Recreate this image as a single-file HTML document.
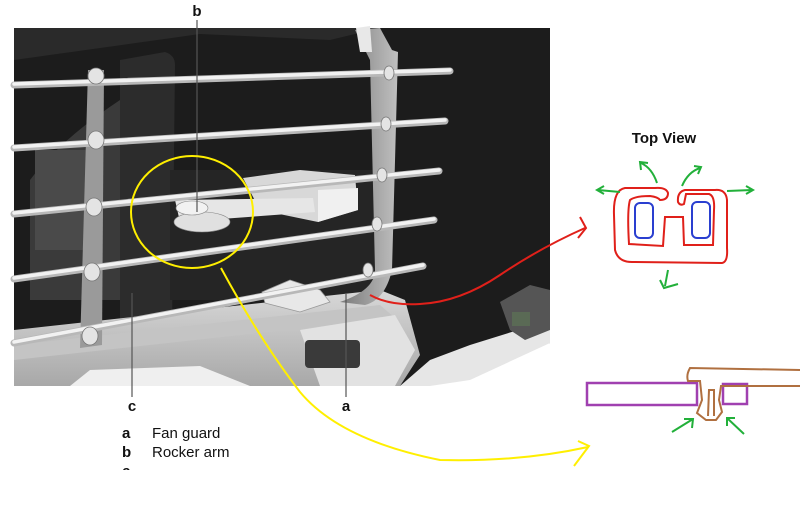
<!DOCTYPE html>
<html><head><meta charset="utf-8"><style>
html,body{margin:0;padding:0;background:#fff;width:800px;height:507px;overflow:hidden}
svg{display:block}
text{font-family:"Liberation Sans",Arial,sans-serif}
</style></head><body>
<svg width="800" height="507" viewBox="0 0 800 507">
<defs>
<linearGradient id="bot" x1="0" y1="0" x2="0" y2="1"><stop offset="0" stop-color="#d8d8d8"/><stop offset="1" stop-color="#a8a8a8"/></linearGradient>
<linearGradient id="frame" x1="0" y1="0" x2="1" y2="0"><stop offset="0" stop-color="#7a7a7a"/><stop offset="1" stop-color="#c0c0c0"/></linearGradient>
</defs>
<polygon points="14,28 550,28 550,343 470,360 400,386 14,386" fill="#1c1c1c"/>
<polygon points="14,28 380,28 330,40 200,34 14,60" fill="#2a2a2a"/>
<path d="M30,180 Q60,140 120,100 L170,60 L170,300 L30,300 Z" fill="#3a3a3a"/>
<path d="M120,60 L165,52 Q175,55 175,65 L172,330 L120,330 Z" fill="#2c2c2c"/>
<path d="M35,150 L100,150 L100,250 L35,250 Z" fill="#4a4a4a"/>
<path d="M170,170 L380,170 L380,300 L170,300 Z" fill="#252525"/>
<polygon points="14,330 380,290 405,300 420,355 400,386 14,386" fill="url(#bot)"/>
<polygon points="14,345 380,305 395,318 14,360" fill="#c4c4c4"/>
<polygon points="300,330 395,315 415,350 395,386 320,386" fill="#e2e2e2"/>
<rect x="305" y="340" width="55" height="28" rx="4" fill="#3a3a3a"/>
<polygon points="90,370 200,366 250,386 70,386" fill="#efefef"/>
<polygon points="400,386 430,360 470,345 550,320 550,343 470,380 430,386" fill="#e6e6e6"/>
<polygon points="500,302 530,285 550,290 550,330 525,340 510,330" fill="#555"/>
<rect x="512" y="312" width="18" height="14" fill="#5a6a55"/>
<polygon points="262,292 290,280 320,290 330,302 300,312 265,303" fill="#e8e8e8" stroke="#999" stroke-width="0.8"/>
<path d="M355,30 L380,28 L392,50 L398,52 L392,270 Q385,300 365,305 L340,302 Q375,290 375,270 L370,60 Z" fill="url(#frame)"/>
<path d="M356,28 L370,26 L372,52 L360,52 Z" fill="#e8e8e8"/>
<polygon points="243,178 300,170 355,175 358,210 318,222 260,210" fill="#d8d8d8"/>
<polygon points="318,190 358,188 358,210 318,222" fill="#f0f0f0"/>
<polygon points="175,200 313,198 315,212 180,222" fill="#e6e6e6"/>
<ellipse cx="202" cy="222" rx="28" ry="10" fill="#e0e0e0" stroke="#888" stroke-width="0.6"/>
<ellipse cx="192" cy="208" rx="16" ry="7" fill="#f2f2f2" stroke="#888" stroke-width="0.6"/>
<path d="M88,70 L104,70 L102,345 L80,348 Z" fill="#9a9a9a"/>
<g stroke="#b8b8b8" stroke-width="7" stroke-linecap="round">
<line x1="14" y1="85" x2="450" y2="71"/>
<line x1="14" y1="148" x2="445" y2="121"/>
<line x1="14" y1="214" x2="439" y2="171"/>
<line x1="14" y1="279" x2="434" y2="220"/>
<line x1="14" y1="343" x2="423" y2="266"/>
</g>
<g stroke="#f2f2f2" stroke-width="3.5" stroke-linecap="round">
<line x1="14" y1="84" x2="450" y2="70"/>
<line x1="14" y1="147" x2="445" y2="120"/>
<line x1="14" y1="213" x2="439" y2="170"/>
<line x1="14" y1="278" x2="434" y2="219"/>
<line x1="14" y1="342" x2="423" y2="265"/>
</g>
<g fill="#e4e4e4" stroke="#777" stroke-width="0.8">
<ellipse cx="96" cy="76" rx="8" ry="8"/><ellipse cx="96" cy="140" rx="8" ry="9"/><ellipse cx="94" cy="207" rx="8" ry="9"/><ellipse cx="92" cy="272" rx="8" ry="9"/><ellipse cx="90" cy="336" rx="8" ry="9"/>
<ellipse cx="389" cy="73" rx="5" ry="7"/><ellipse cx="386" cy="124" rx="5" ry="7"/><ellipse cx="382" cy="175" rx="5" ry="7"/><ellipse cx="377" cy="224" rx="5" ry="7"/><ellipse cx="368" cy="270" rx="5" ry="7"/>
</g>
<g stroke="#555" stroke-width="1.2">
<line x1="197" y1="20" x2="197" y2="212"/>
<line x1="132" y1="293" x2="132" y2="397"/>
<line x1="346" y1="293" x2="346" y2="397"/>
</g>
<text x="197" y="16" font-size="15" font-weight="bold" text-anchor="middle" fill="#111">b</text>
<text x="132" y="411" font-size="15" font-weight="bold" text-anchor="middle" fill="#111">c</text>
<text x="346" y="411" font-size="15" font-weight="bold" text-anchor="middle" fill="#111">a</text>
<text x="122" y="438" font-size="15" font-weight="bold" fill="#111">a</text>
<text x="152" y="438" font-size="15" fill="#111">Fan guard</text>
<text x="122" y="457" font-size="15" font-weight="bold" fill="#111">b</text>
<text x="152" y="457" font-size="15" fill="#111">Rocker arm</text>
<svg x="0" y="460" width="200" height="10" overflow="hidden"><text x="122" y="16" font-size="15" font-weight="bold" fill="#111">c</text></svg>
<ellipse cx="192" cy="212" rx="61" ry="56" fill="none" stroke="#ffef00" stroke-width="2"/>
<path d="M221,268 Q260,340 300,392 Q340,440 440,460 Q520,462 588,447" fill="none" stroke="#ffef00" stroke-width="2"/>
<path d="M578,441 L589,446 L574,466" fill="none" stroke="#ffef00" stroke-width="2"/>
<path d="M370,295 Q390,306 420,304 Q460,302 500,275 Q540,248 585,228" fill="none" stroke="#e0201a" stroke-width="2"/>
<path d="M580,217 L586,228 L578,238" fill="none" stroke="#e0201a" stroke-width="2"/>
<text x="664" y="143" font-size="15" font-weight="bold" text-anchor="middle" fill="#111">Top View</text>
<path d="M660,200 Q668,200 668,193 Q666,187 655,188 L625,188 Q613,190 614,215 L615,250 Q618,262 632,262 L722,263 Q728,262 727,248 L727,200 Q726,189 715,190 L685,190 Q677,192 678,202 Q680,206 684,204 L686,194 L709,194 Q715,196 714,210 L713,245 L684,245 L683,217 L665,217 L663,246 L629,244 Q627,210 630,200 Q635,196 650,196 Q658,197 660,200 Z" fill="none" stroke="#e0201a" stroke-width="2"/>
<rect x="635" y="203" width="18" height="35" rx="5" fill="none" stroke="#2a3fd0" stroke-width="2"/>
<rect x="692" y="202" width="18" height="36" rx="5" fill="none" stroke="#2a3fd0" stroke-width="2"/>
<g fill="none" stroke="#22b03a" stroke-width="2">
<path d="M620,192 L598,190 M604,186 L597,190 L604,194"/>
<path d="M657,183 Q652,168 641,163 M641,170 L640,162 L648,163"/>
<path d="M682,186 Q688,172 700,168 M694,166 L701,167 L698,174"/>
<path d="M727,191 L752,190 M746,186 L753,190 L746,194"/>
<path d="M668,270 L665,286 M660,280 L664,288 L678,284"/>
</g>
<rect x="587" y="383" width="110" height="22" fill="none" stroke="#a040b0" stroke-width="2.5"/>
<rect x="723" y="384" width="24" height="20" fill="none" stroke="#a040b0" stroke-width="2.5"/>
<path d="M800,370 L690,368 Q686,375 688,381 L700,381 L702,400 L697,413 L706,420 L716,420 L722,412 L719,400 L721,386 L800,386" fill="none" stroke="#b07040" stroke-width="2"/>
<path d="M708,416 L709,390 L714,390 L714,416" fill="none" stroke="#b07040" stroke-width="2"/>
<g fill="none" stroke="#22b03a" stroke-width="2">
<path d="M672,432 L693,419 M684,419 L693,419 L692,428"/>
<path d="M744,434 L727,418 M727,426 L727,418 L735,418"/>
</g>
</svg>
</body></html>
